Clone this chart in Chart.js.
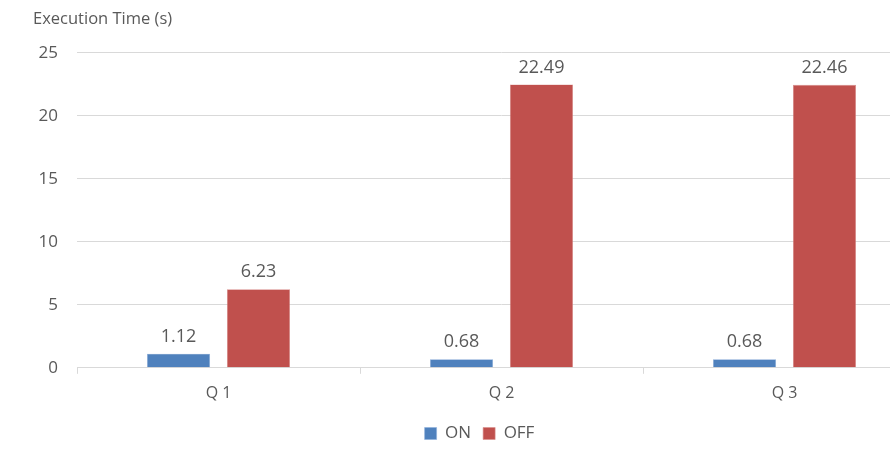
<!DOCTYPE html>
<html>
<head>
<meta charset="utf-8">
<script src="https://cdn.jsdelivr.net/npm/chart.js@4/dist/chart.umd.min.js"></script>
<style>
  html, body { margin: 0; padding: 0; background: #ffffff; overflow: hidden; }
  #wrap { position: relative; width: 975px; height: 458px; }
</style>
</head>
<body>
<div id="wrap"><canvas id="chart"></canvas></div>
<script>
// Query timings, seconds
const categories = ['Q 1', 'Q 2', 'Q 3'];
const onTimes = [1.12, 0.68, 0.68];
const offTimes = [6.23, 22.49, 22.46];
const yTicks = [0, 5, 10, 15, 20, 25];

const TEXT = '#595959';
const FONT = '"Open Sans", "Noto Sans", sans-serif';

// Writes each bar's value just above its top
const valueLabels = {
  id: 'valueLabels',
  afterDatasetsDraw(chart) {
    const ctx = chart.ctx;
    ctx.save();
    ctx.font = '18px ' + FONT;
    ctx.fillStyle = TEXT;
    ctx.textAlign = 'center';
    ctx.textBaseline = 'bottom';
    chart.data.datasets.forEach((ds, i) => {
      chart.getDatasetMeta(i).data.forEach((bar, j) => {
        ctx.fillText(ds.data[j].toFixed(2), bar.x, bar.y - 8);
      });
    });
    ctx.restore();
  }
};

new Chart(document.getElementById('chart'), {
  type: 'bar',
  data: {
    labels: categories,
    datasets: [
      { label: 'ON', data: onTimes, backgroundColor: '#4F81BD', borderColor: '#8EB0DC', borderWidth: 0.6 },
      { label: 'OFF', data: offTimes, backgroundColor: '#C0504D', borderColor: '#D98E8C', borderWidth: 0.6 }
    ]
  },
  options: {
    responsive: true,
    maintainAspectRatio: false,
    animation: false,
    categoryPercentage: 0.565,
    barPercentage: 0.79,
    layout: { padding: { left: 33, right: 49, top: 9, bottom: 6 } },
    plugins: {
      legend: {
        position: 'bottom',
        labels: { boxWidth: 12, boxHeight: 12, color: TEXT, font: { family: FONT, size: 17 }, padding: 12 }
      },
      title: {
        display: true,
        text: 'Execution Time (s)',
        align: 'start',
        color: TEXT,
        font: { family: FONT, size: 16.5, weight: 'normal' },
        padding: { top: 0, bottom: 24 }
      },
      tooltip: { enabled: false }
    },
    scales: {
      x: {
        grid: { display: true, drawOnChartArea: false, drawTicks: true, tickLength: 6, color: '#D9D9D9', offset: true },
        border: { display: true, color: '#D9D9D9' },
        ticks: { color: TEXT, font: { family: FONT, size: 16 }, padding: 10 }
      },
      y: {
        min: 0,
        max: 25,
        afterBuildTicks(scale) { scale.ticks = yTicks.map(v => ({ value: v })); },
        afterFit(scale) { scale.width = 44; },
        grid: { color: '#D9D9D9', drawTicks: false },
        border: { display: false },
        ticks: { color: TEXT, font: { family: FONT, size: 17 }, padding: 19 }
      }
    }
  },
  plugins: [valueLabels]
});
</script>
</body>
</html>
